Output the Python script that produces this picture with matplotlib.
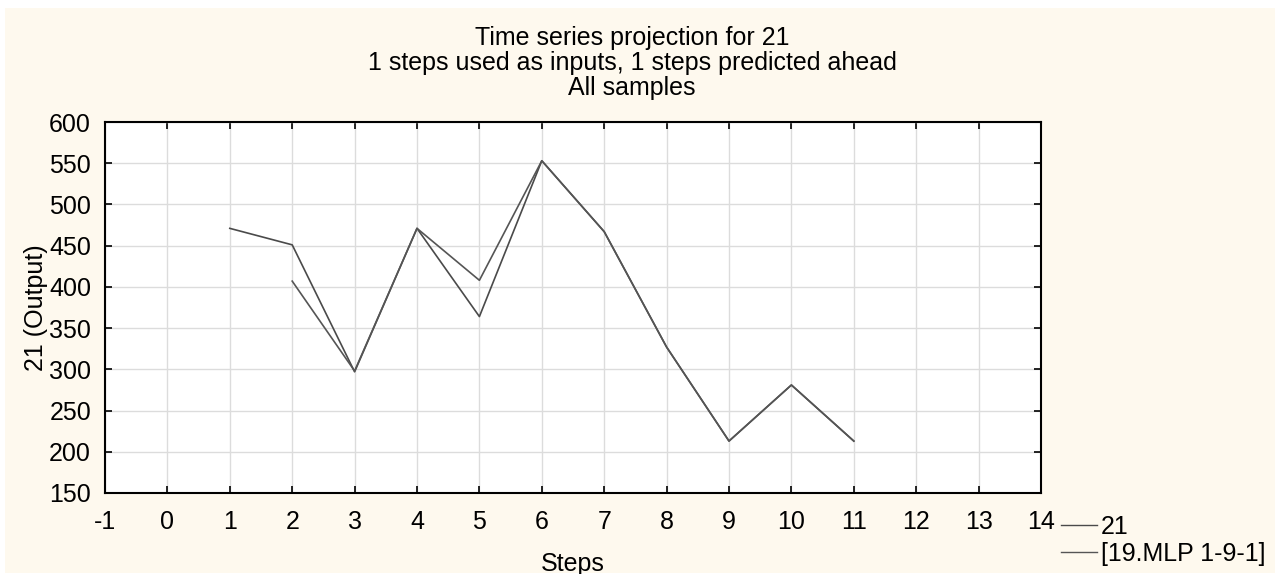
import matplotlib
matplotlib.use("Agg")
import matplotlib.pyplot as plt
from matplotlib.patches import Rectangle

plt.rcParams['font.family'] = ['Liberation Sans', 'DejaVu Sans']
plt.rcParams['axes.unicode_minus'] = False

# Observed series and one-step-ahead network projection
steps_actual = [1, 2, 3, 4, 5, 6, 7, 8, 9, 10, 11]
values_actual = [471, 451, 297, 471, 364, 553, 467, 327, 213, 281, 213]

steps_pred = [2, 3, 4, 5, 6, 7, 8, 9, 10, 11]
values_pred = [407, 298, 471, 408, 553, 467, 327, 213, 281, 213]

x_ticks = list(range(-1, 15))
y_ticks = list(range(150, 601, 50))

title_lines = ["Time series projection for 21",
               "1 steps used as inputs, 1 steps predicted ahead",
               "All samples"]

FS = 18
W, H = 1275, 574
fig = plt.figure(figsize=(W / 100, H / 100), dpi=100, facecolor='white')

# cream panel behind everything
fig.patches.append(Rectangle((5 / W, 1 - 573 / H), 1 - 5 / W, (573 - 8) / H,
                             transform=fig.transFigure, facecolor='#FEF9EE',
                             edgecolor='none', zorder=-10))

ax = fig.add_axes([105 / W, 1 - 493 / H, (1041 - 105) / W, (493 - 122) / H])
ax.set_facecolor('white')

ax.plot(steps_actual, values_actual, color='#4A4A4A', lw=1.2, label='21', zorder=3)
ax.plot(steps_pred, values_pred, color='#555555', lw=1.2, label='[19.MLP 1-9-1]', zorder=3)

ax.set_xlim(-1, 14)
ax.set_ylim(150, 600)
ax.set_xticks(x_ticks)
ax.set_yticks(y_ticks)
ax.grid(True, color='#DCDCDC', lw=1.0, zorder=0)
ax.set_axisbelow(True)
ax.tick_params(direction='in', length=5, width=1.2, top=True, right=True,
               labelsize=FS, colors='black')
ax.tick_params(axis='x', pad=12)
ax.tick_params(axis='y', pad=10)
for s in ax.spines.values():
    s.set_linewidth(1.5)
    s.set_color('black')

ax.set_xlabel('Steps', fontsize=FS, labelpad=13)
ax.set_ylabel('21 (Output)', fontsize=FS, labelpad=1)

for i, line in enumerate(title_lines):
    fig.text(632 / W, 1 - (38.5 + 24.5 * i) / H, line, ha='center', va='center', fontsize=FS)

leg = ax.legend(loc='upper left', bbox_to_anchor=(1061 / W, 1 - 515 / H),
                bbox_transform=fig.transFigure, frameon=False, fontsize=FS,
                handlelength=1.45, handletextpad=0.15, labelspacing=0.12,
                borderpad=0, borderaxespad=0)
for h in leg.get_lines():
    h.set_linewidth(1.0)

fig.savefig('out.png', dpi=100, facecolor='white')
